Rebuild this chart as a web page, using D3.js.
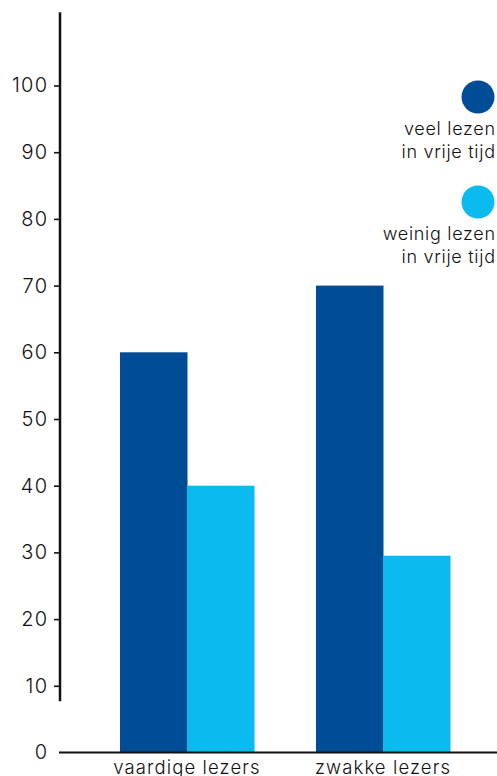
<!DOCTYPE html>
<html>
<head>
<meta charset="utf-8">
<script src="https://cdn.jsdelivr.net/npm/d3@7"></script>
<style>
  body { margin: 0; background: #fff; }
  svg { display: block; font-family: Inter, "Noto Sans", sans-serif; }
</style>
</head>
<body>
<svg></svg>
<script>
// data
let categories = ["vaardige lezers", "zwakke lezers"]
let seriesNames = ["veel lezen", "weinig lezen"]
let veelLezen = [60, 70]
let weinigLezen = [40, 29.5]
let yTicks = [0, 10, 20, 30, 40, 50, 60, 70, 80, 90, 100]
let legendLines = [["veel lezen", "in vrije tijd"], ["weinig lezen", "in vrije tijd"]]

let colors = ["#004c97", "#0bbbef"]

let width = 497
let height = 776

let svg = d3.select("svg")
  .attr("width", width)
  .attr("height", height)

// scales
let yScale = d3.scaleLinear()
  .domain([0, 100])
  .range([752.5, 85.5])

let xScale = d3.scaleBand()
  .domain(categories)
  .range([89, 481])
  .paddingInner(0.316)
  .paddingOuter(0.158)

let subScale = d3.scaleBand()
  .domain(seriesNames)
  .range([0, xScale.bandwidth()])

let rows = categories.map((c, i) => ({ cat: c, values: [veelLezen[i], weinigLezen[i]] }))

// bars
let groups = svg.selectAll("g.group")
  .data(rows)
  .enter()
  .append("g")
  .attr("class", "group")
  .attr("transform", (d) => "translate(" + xScale(d.cat) + ",0)")

groups.selectAll("rect")
  .data((d) => d.values.map((v, j) => ({ name: seriesNames[j], value: v, j: j })))
  .enter()
  .append("rect")
  .attr("x", (d) => subScale(d.name))
  .attr("width", subScale.bandwidth() + 0.5)
  .attr("y", (d) => yScale(d.value))
  .attr("height", (d) => yScale(0) - yScale(d.value))
  .style("fill", (d) => colors[d.j])

// y axis
let yAxis = d3.axisLeft(yScale)
  .tickValues(yTicks)
  .tickSize(6)
  .tickPadding(7)

let yG = svg.append("g")
  .attr("transform", "translate(60,0)")
  .call(yAxis)

yG.select(".domain").remove()
yG.selectAll(".tick line").attr("stroke", "#111").attr("stroke-width", 1.6)
yG.selectAll(".tick").filter((d) => d === 0).select("line").remove()
yG.selectAll(".tick text")
  .style("font-size", "20px")
  .style("font-family", "Inter, sans-serif")
  .style("font-weight", 300)
  .style("letter-spacing", "1.2px")
  .attr("dx", "1.2")
  .attr("fill", "#111")

// vertical axis line, broken below 10
svg.append("line")
  .attr("x1", 60).attr("x2", 60)
  .attr("y1", yScale(111)).attr("y2", yScale(7.7))
  .attr("stroke", "#111")
  .attr("stroke-width", 2.5)

// x axis line
svg.append("line")
  .attr("x1", 59).attr("x2", width)
  .attr("y1", yScale(0)).attr("y2", yScale(0))
  .attr("stroke", "#111")
  .attr("stroke-width", 2.2)

// category labels
svg.selectAll("text.cat")
  .data(categories)
  .enter()
  .append("text")
  .attr("class", "cat")
  .attr("x", (d) => xScale(d) + xScale.bandwidth() / 2)
  .attr("y", 774)
  .attr("text-anchor", "middle")
  .style("font-size", "18.5px")
  .style("font-weight", 300)
  .style("letter-spacing", "1.1px")
  .attr("fill", "#111")
  .text((d) => d)

// legend
let legendY = [97, 202]
let legend = svg.selectAll("g.legend")
  .data(legendLines)
  .enter()
  .append("g")
  .attr("class", "legend")
  .attr("transform", (d, i) => "translate(0," + legendY[i] + ")")

legend.append("circle")
  .attr("cx", 478)
  .attr("cy", 0)
  .attr("r", 16.5)
  .style("fill", (d, i) => colors[i])

legend.selectAll("text")
  .data((d) => d)
  .enter()
  .append("text")
  .attr("x", 495.7)
  .attr("y", (d, k) => 38 + k * 22.5)
  .attr("text-anchor", "end")
  .style("font-size", "18px")
  .style("font-weight", 300)
  .style("letter-spacing", "0.7px")
  .attr("fill", "#111")
  .text((d) => d)
</script>
</body>
</html>
